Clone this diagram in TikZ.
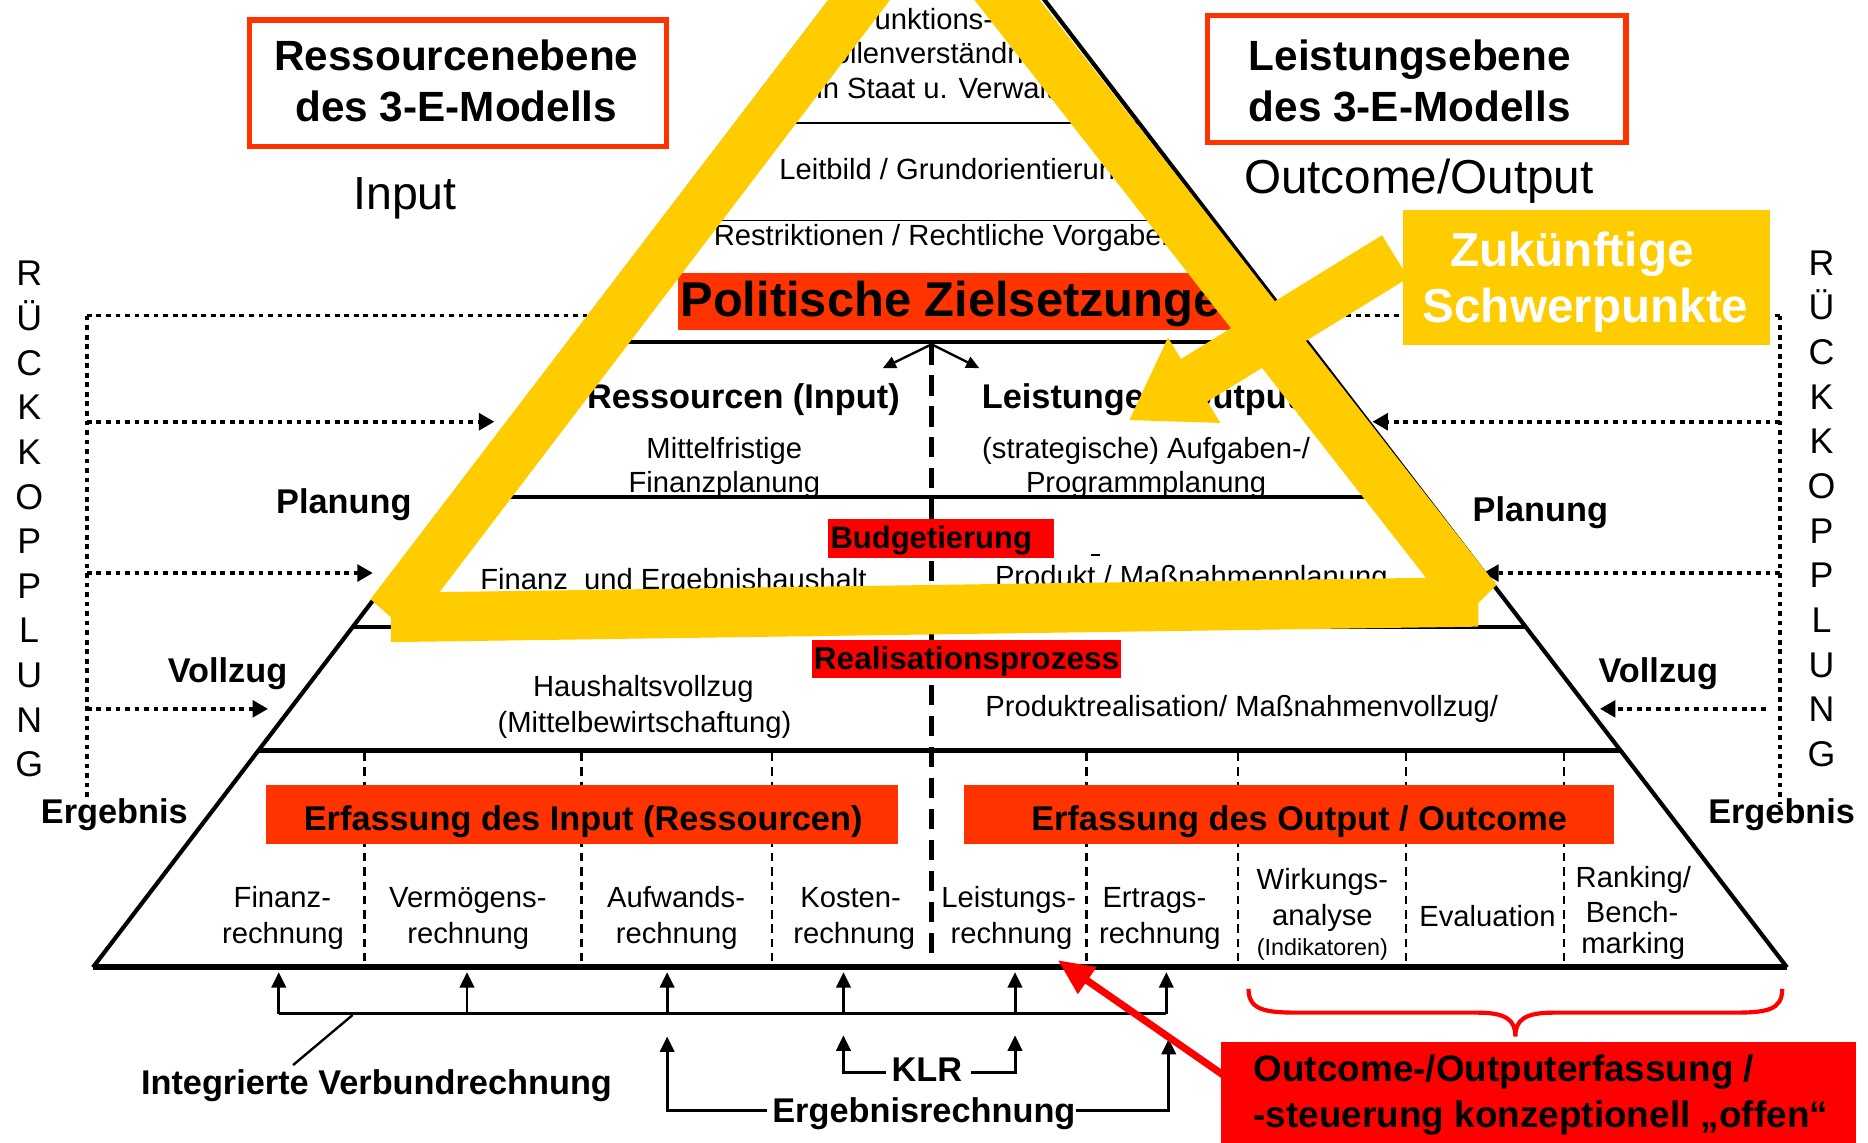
\documentclass[tikz,border=0pt]{standalone}
\usepackage{fontspec}
\setmainfont{Liberation Sans}
\usetikzlibrary{arrows.meta}
\definecolor{ored}{HTML}{FF3300}
\definecolor{pred}{HTML}{FF0000}
\definecolor{ylw}{HTML}{FFCC00}
\begin{document}
\begin{tikzpicture}[x=1pt,y=-1pt,
  rtxt/.style={font=\fontsize{24.5}{29}\selectfont, inner sep=0pt, anchor=base},
  btxt/.style={font=\bfseries\fontsize{28.8}{34}\selectfont, inner sep=0pt, anchor=base},
  fb/.style={line width=3pt, dash pattern=on 4pt off 4pt},
  fbarr/.style={fb, -{Triangle[length=13pt,width=14pt]}},
  uparr/.style={line width=2.5pt, -{Triangle[length=13pt,width=12pt]}},
  lvl/.style={line width=3.5pt},
  thinlvl/.style={line width=1.5pt},
  cellsep/.style={line width=2pt, dash pattern=on 7pt off 5pt},
  ]
\useasboundingbox[fill=white] (0,0) rectangle (1568,959);

% ---------- feedback dotted lines ----------
\coordinate (LT) at (73,265); \coordinate (LB) at (73,670);
\coordinate (RT) at (1494,265); \coordinate (RB) at (1494,675);
\draw[fb] (LT) -- (LB);
\draw[fb] (RT) -- (RB);
\coordinate (LTe) at (510,265); \coordinate (RTe) at (1105,265);
\draw[fb] (LT) -- (LTe);
\draw[fb] (RT) -- (RTe);
\coordinate (L1) at (73,354); \coordinate (L1e) at (415,354);
\coordinate (L2) at (73,481); \coordinate (L2e) at (313,481);
\coordinate (L3) at (73,595); \coordinate (L3e) at (225,595);
\coordinate (R1) at (1494,354); \coordinate (R1e) at (1152,354);
\coordinate (R2) at (1494,481); \coordinate (R2e) at (1245,481);
\coordinate (R3) at (1482,595); \coordinate (R3e) at (1343,595);
\draw[fbarr] (L1) -- (L1e);
\draw[fbarr] (L2) -- (L2e);
\draw[fbarr] (L3) -- (L3e);
\draw[fbarr] (R1) -- (R1e);
\draw[fbarr] (R2) -- (R2e);
\draw[fbarr] (R3) -- (R3e);

% ---------- pyramid ----------
\coordinate (apex) at (787,-117);
\coordinate (bl) at (78,812);
\coordinate (br) at (1500,812);
\draw[line width=3.5pt, line join=miter] (bl) -- (apex) -- (br);
\draw[thinlvl] (619,103) -- (956,103);
\draw[thinlvl] (556.5,185) -- (1018.8,185);
\draw[lvl] (478.7,287) -- (1097,287);
\draw[lvl] (379.4,417) -- (1196.8,417);
\draw[lvl] (296.3,526) -- (1280.5,526);
\draw[lvl] (216.9,630) -- (1360.3,630);
\draw[line width=4.5pt, dash pattern=on 17pt off 9pt] (782,289) -- (782,810);
\foreach \xx in {306,488,648,912,1039,1180,1313}
  \draw[cellsep] (\xx,632) -- (\xx,810);
\draw[line width=5pt] (bl) -- (br);

\coordinate (split) at (782,289);
\coordinate (splitL) at (741,309);
\coordinate (splitR) at (822,309);
\draw[line width=2pt, -{Triangle[length=11pt,width=10pt]}] (split) -- (splitL);
\draw[line width=2pt, -{Triangle[length=11pt,width=10pt]}] (split) -- (splitR);

% ---------- pyramid texts ----------
\node[rtxt, anchor=base west] (f1) at (719,25) {Funktions-};
\node[rtxt, anchor=base west] (f2) at (682,53) {Rollenverständnis};
\node[rtxt, anchor=base west] (f3) at (685,83) {in Staat u. Verwaltung};
\node[rtxt, anchor=base west] (lb) at (654,151) {Leitbild / Grundorientierung};
\node[rtxt, anchor=base west] (rv) at (599,206) {Restriktionen / Rechtliche Vorgaben};

\fill[ored] (569,229) rectangle (1052,277);
\node[inner sep=0pt, anchor=base west, font=\bfseries\fontsize{41}{48}\selectfont] (pz) at (571,266) {Politische Zielsetzungen};

\node[btxt] (ri) at (624,343) {Ressourcen (Input)};
\node[btxt, anchor=base west] (lo) at (824,343) {Leistungen (Output)};
\node[rtxt] (mf1) at (608,385) {Mittelfristige};
\node[rtxt] (mf2) at (608,413) {Finanzplanung};
\node[rtxt] (sa1) at (962,385) {(strategische) Aufgaben-/};
\node[rtxt] (sa2) at (962,413) {Programmplanung};

\fill[pred] (695,436) rectangle (885,468);
\node[inner sep=0pt, anchor=base west, font=\bfseries\fontsize{26}{31}\selectfont] (bud) at (697,460) {Budgetierung};
\node[rtxt, anchor=base west] (feh) at (403,495) {Finanz\ \ und Ergebnishaushalt};
\node[rtxt, anchor=base west] (pmp) at (835,492) {Produkt / Maßnahmenplanung};
\draw[line width=1.6pt] (916,466) -- (923,466);

\fill[pred] (682,537) rectangle (941,569);
\node[inner sep=0pt, anchor=base west, font=\bfseries\fontsize{26.5}{31}\selectfont] (rp) at (683,562) {Realisationsprozess};
\node[rtxt] (hv1) at (540,585) {Haushaltsvollzug};
\node[rtxt] (hv2) at (541,614.5) {(Mittelbewirtschaftung)};
\node[rtxt, anchor=base west] (prm) at (827,601) {Produktrealisation/ Maßnahmenvollzug/};

\fill[ored] (223,659) rectangle (754,708.5);
\node[btxt] (ei) at (489.5,697) {Erfassung des Input (Ressourcen)};
\fill[ored] (809,659) rectangle (1355,708.5);
\node[btxt] (eo) at (1090.5,697) {Erfassung des Output / Outcome};

\node[rtxt] (c1a) at (237,762) {Finanz-};
\node[rtxt] (c1b) at (237.5,792) {rechnung};
\node[rtxt] (c2a) at (392.7,762) {Vermögens-};
\node[rtxt] (c2b) at (393,792) {rechnung};
\node[rtxt] (c3a) at (567.5,762) {Aufwands-};
\node[rtxt] (c3b) at (568,792) {rechnung};
\node[rtxt] (c4a) at (714,762) {Kosten-};
\node[rtxt] (c4b) at (717,792) {rechnung};
\node[rtxt] (c5a) at (846.7,762) {Leistungs-};
\node[rtxt] (c5b) at (849,792) {rechnung};
\node[rtxt] (c6a) at (969,762) {Ertrags-};
\node[rtxt] (c6b) at (973.6,792) {rechnung};
\node[rtxt] (c7a) at (1110,747) {Wirkungs-};
\node[rtxt] (c7b) at (1110,777) {analyse};
\node[rtxt, font=\fontsize{19.6}{23}\selectfont] (c7c) at (1110,802) {(Indikatoren)};
\node[rtxt] (c8) at (1248.6,778) {Evaluation};
\node[rtxt] (c9a) at (1371,745) {Ranking/};
\node[rtxt] (c9b) at (1370,774) {Bench-};
\node[rtxt] (c9c) at (1371,800) {marking};

% ---------- yellow triangle ----------
\fill[ylw, even odd rule]
  (783,-115) -- (1256,491) -- (1241,506) -- (1241,526) -- (328,539) -- (328,518) -- (311,503) -- cycle
  (782,-46) -- (1197,485) -- (369,497) -- cycle;

% ---------- yellow arrow and box ----------
\fill[ylw] (948,352.6) -- (1024.4,355) -- (1013.4,337.1) -- (1182.1,233.3)
  -- (1160.1,197.5) -- (991.4,301.3) -- (980.4,283.4) -- cycle;
\fill[ylw] (1178,176) rectangle (1485.5,290);
\node[inner sep=0pt, anchor=base west, text=white, font=\bfseries\fontsize{40}{47}\selectfont] (zk) at (1217,224) {Zukünftige};
\node[inner sep=0pt, anchor=base west, text=white, font=\bfseries\fontsize{40}{47}\selectfont] (sp) at (1194,271) {Schwerpunkte};

% ---------- top boxes ----------
\draw[ored, line width=4.5pt] (209.3,16.8) rectangle (559.7,122.7);
\node[inner sep=0pt, anchor=base, font=\bfseries\fontsize{35.5}{42}\selectfont] (re1) at (383,59.3) {Ressourcenebene};
\node[inner sep=0pt, anchor=base, font=\bfseries\fontsize{35.5}{42}\selectfont] (re2) at (383,102) {des 3-E-Modells};
\draw[ored, line width=4.5pt] (1013.7,13.2) rectangle (1364.8,119.8);
\node[inner sep=0pt, anchor=base west, font=\bfseries\fontsize{35.5}{42}\selectfont] (le1) at (1048,59.3) {Leistungsebene};
\node[inner sep=0pt, anchor=base west, font=\bfseries\fontsize{35.5}{42}\selectfont] (le2) at (1048,102) {des 3-E-Modells};
\node[inner sep=0pt, anchor=base, font=\fontsize{39}{46}\selectfont] (inp) at (340,176) {Input};
\node[inner sep=0pt, anchor=base west, font=\fontsize{40}{47}\selectfont] (oo) at (1044,162) {Outcome/Output};

% ---------- side labels ----------
\foreach \ch [count=\i from 0] in {R,Ü,C,K,K,O,P,P,L,U,N,G} {
  \node[inner sep=0pt, anchor=base, font=\fontsize{30}{36}\selectfont] (lk\i) at (24.5,240+\i*37.45) {\ch};
  \node[inner sep=0pt, anchor=base, font=\fontsize{30}{36}\selectfont] (rk\i) at (1529,231+\i*37.5) {\ch};
}
\node[btxt] (plL) at (288.6,431) {Planung};
\node[btxt] (plR) at (1293,438) {Planung};
\node[btxt] (voL) at (191,572.6) {Vollzug};
\node[btxt] (voR) at (1392,573) {Vollzug};
\node[btxt] (erL) at (96,691) {Ergebnis};
\node[btxt] (erR) at (1495.5,691) {Ergebnis};

% ---------- bottom arrows ----------
\draw[line width=2.5pt] (234,851) -- (979,851);
\foreach \xx in {234,392,560,708,852,979}
  \draw[uparr] (\xx,851) -- (\xx,816);
\coordinate (lead1) at (296,852);
\coordinate (lead2) at (246,894);
\draw[line width=2pt] (lead1) -- (lead2);
\node[btxt] (ivr) at (316,919) {Integrierte Verbundrechnung};

\node[btxt] (klr) at (778,908) {KLR};
\draw[uparr] (744,900) -- (708,900) -- (708,869);
\draw[uparr] (815,900) -- (852,900) -- (852,869);
\node[btxt] (erg) at (775.5,942) {Ergebnisrechnung};
\draw[uparr] (644,932) -- (560,932) -- (560,870);
\draw[uparr] (903,932) -- (981,932) -- (981,872);

% ---------- red arrow, brace, box ----------
\coordinate (ra1) at (1045,915);
\coordinate (ra2) at (888,806);
\draw[pred, line width=6pt, -{Triangle[length=30pt,width=26pt]}] (ra1) -- (ra2);
\draw[pred, line width=3.5pt] (1048,830) .. controls (1048,848) and (1062,850) .. (1090,850)
  -- (1240,850) .. controls (1264,850) and (1272,856) .. (1272,870)
  .. controls (1272,856) and (1280,850) .. (1304,850)
  -- (1455,850) .. controls (1483,850) and (1496,848) .. (1496,830);
\fill[pred] (1025,874.5) rectangle (1558,959);
\node[inner sep=0pt, anchor=base west, font=\bfseries\fontsize{31}{37}\selectfont] (oc1) at (1052,908) {Outcome-/Outputerfassung /};
\node[inner sep=0pt, anchor=base west, font=\bfseries\fontsize{31}{37}\selectfont] (oc2) at (1052,946) {-steuerung konzeptionell „offen“};
\end{tikzpicture}
\end{document}
